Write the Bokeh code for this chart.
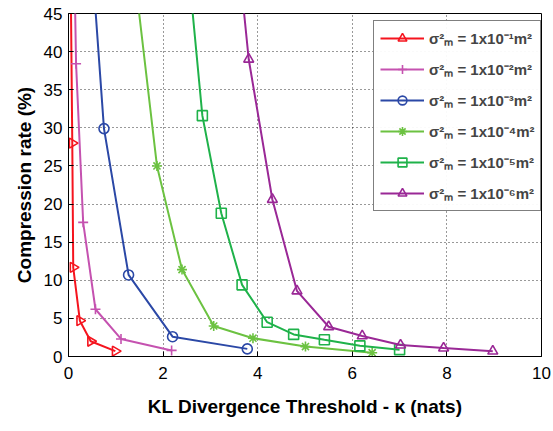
import math
from bokeh.plotting import figure
from bokeh.models import Legend, LegendItem, Range1d, FixedTicker
from bokeh.embed import file_html
from bokeh.resources import INLINE

# Data; first point of the steep series lies above the visible range
x1 = [0.03, 0.08, 0.10, 0.24, 0.47, 0.99]
y1 = [60.0, 28.0, 11.7, 4.7, 2.0, 0.7]

x2 = [0.10, 0.16, 0.31, 0.57, 1.11, 2.18]
y2 = [60.0, 38.4, 17.6, 6.2, 2.3, 0.8]

x3 = [0.46, 0.75, 1.27, 2.20, 3.78]
y3 = [55.0, 29.9, 10.7, 2.6, 1.0]

x4 = [1.40, 1.87, 2.40, 3.07, 3.90, 5.01, 6.42]
y4 = [50.0, 25.0, 11.4, 4.0, 2.4, 1.3, 0.5]

x5 = [2.55, 2.83, 3.23, 3.67, 4.20, 4.76, 5.41, 6.16, 7.00]
y5 = [50.0, 31.6, 18.8, 9.4, 4.5, 2.9, 2.2, 1.4, 0.9]

x6 = [3.60, 3.81, 4.31, 4.83, 5.50, 6.21, 7.02, 7.93, 8.97]
y6 = [52.0, 39.0, 20.6, 8.6, 3.9, 2.7, 1.5, 1.1, 0.7]

labels = ["σ²ₘ = 1x10⁻¹m²", "σ²ₘ = 1x10⁻²m²", "σ²ₘ = 1x10⁻³m²",
          "σ²ₘ = 1x10⁻⁴m²", "σ²ₘ = 1x10⁻⁵m²", "σ²ₘ = 1x10⁻⁶m²"]
colors = ["#f5141e", "#c552b0", "#2b48a6", "#6cc241", "#1fb24a", "#9a2896"]
markers = ["triangle", "cross", "circle", "asterisk", "square", "triangle"]
angles = [-math.pi / 2, 0, 0, 0, 0, 0]
xs = [x1, x2, x3, x4, x5, x6]
ys = [y1, y2, y3, y4, y5, y6]

p = figure(width=553, height=431, output_backend="svg", toolbar_location=None,
           x_range=Range1d(0, 10), y_range=Range1d(0, 45),
           min_border_left=68, min_border_right=12, min_border_top=13, min_border_bottom=75)
p.background_fill_color = "white"
p.outline_line_color = "black"
p.outline_line_width = 1

items = []
for i in range(6):
    r1 = p.line(xs[i], ys[i], line_color=colors[i], line_width=2)
    r2 = p.scatter(xs[i], ys[i], marker=markers[i], size=10, angle=angles[i],
                   line_color=colors[i], fill_color="white", fill_alpha=0.0, line_width=1.6)
    items.append(LegendItem(label=labels[i], renderers=[r1, r2]))

p.xaxis.ticker = FixedTicker(ticks=[0, 2, 4, 6, 8, 10])
p.yaxis.ticker = FixedTicker(ticks=list(range(0, 46, 5)))
for ax in (p.xaxis[0], p.yaxis[0]):
    ax.major_label_text_font = "Liberation Sans"
    ax.major_label_text_font_size = "17px"
    ax.major_label_text_color = "black"
    ax.axis_label_text_font = "Liberation Sans"
    ax.axis_label_text_font_style = "bold"
    ax.axis_label_text_font_size = "19px"
    ax.axis_label_text_color = "black"
    ax.major_tick_in = 5
    ax.major_tick_out = 0
    ax.minor_tick_line_color = None
    ax.axis_line_color = "black"
p.xaxis.axis_label = "KL Divergence Threshold - κ (nats)"
p.yaxis.axis_label = "Compression rate (%)"
p.xaxis.major_label_standoff = 10
p.yaxis.major_label_standoff = 6
p.xaxis.axis_label_standoff = 14
p.yaxis.axis_label_standoff = 6

p.xgrid.ticker = p.xaxis.ticker
p.ygrid.ticker = p.yaxis.ticker
p.grid.grid_line_color = "black"
p.grid.grid_line_dash = "1 3"
p.grid.grid_line_alpha = 0.8

legend = Legend(items=items, location=(305, 145))
legend.label_text_font = "Liberation Sans"
legend.label_text_font_style = "bold"
legend.label_text_font_size = "15px"
legend.glyph_width = 44
legend.glyph_height = 22
legend.spacing = 9
legend.padding = 6
legend.margin = 0
legend.border_line_color = "black"
legend.border_line_width = 1
legend.background_fill_color = "white"
p.add_layout(legend)

open("out.html", "w").write(file_html(p, INLINE))
